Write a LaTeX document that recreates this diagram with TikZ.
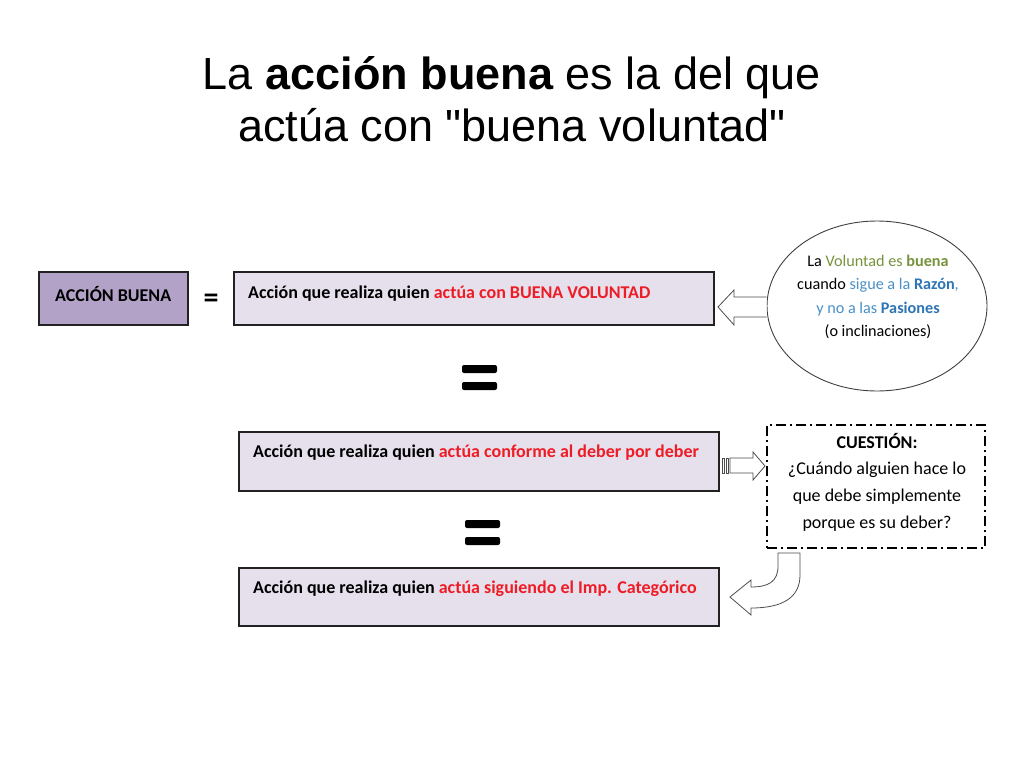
\documentclass[tikz,border=0pt]{standalone}
\usepackage{fontspec}
\usetikzlibrary{shapes.geometric,calc}
\setmainfont{Carlito}
\newfontfamily\titlefont{Liberation Sans}
\definecolor{boxfill}{HTML}{E6E0EC}
\definecolor{purplefill}{HTML}{B3A2C7}
\definecolor{redtxt}{HTML}{EE1C25}
\definecolor{greentxt}{HTML}{77933C}
\definecolor{bluetxt}{HTML}{4A90C8}
\definecolor{darkblue}{HTML}{2E75B6}
\definecolor{edge}{HTML}{222222}
\tikzset{
  panel/.style={draw=edge, line width=2pt, fill=boxfill, inner sep=0pt},
  boxtext/.style={anchor=west, inner sep=0pt, font=\fontsize{18}{21}\selectfont\bfseries},
  blockarrow/.style={draw=black!70, line width=0.8pt, fill=white},
  bigeq/.style={fill=black, rounded corners=2pt}
}
\begin{document}
\begin{tikzpicture}[x=1pt,y=-1pt]
\useasboundingbox (0,0) rectangle (1024,768);
% title
\node[font=\titlefont\fontsize{45}{52}\selectfont, align=center, inner sep=0pt] (title) at (512,99)
  {La \textbf{acción buena} es la del que\\actúa con "buena voluntad"};
% boxes
\node[panel, fill=purplefill, minimum width=149pt, minimum height=53pt] (ab) at (113.5,298.5) {};
\node[boxtext] (abt) at (55,294) {ACCIÓN BUENA};
\node[font=\fontsize{30}{30}\selectfont\bfseries, inner sep=0pt] (eq1) at (211,301) {=};
\node[panel, minimum width=480pt, minimum height=53pt] (b1) at (474,298.5) {};
\node[boxtext] (b1t) at (248,294) {Acción que realiza quien \textcolor{redtxt}{actúa con BUENA VOLUNTAD}};
\node[panel, minimum width=480pt, minimum height=59pt] (b2) at (479,461.5) {};
\node[boxtext] (b2t) at (253,453) {Acción que realiza quien \textcolor{redtxt}{actúa conforme al deber por deber}};
\node[panel, minimum width=480pt, minimum height=58pt] (b3) at (479,597) {};
\node[boxtext] (b3t) at (253,589) {Acción que realiza quien \textcolor{redtxt}{actúa siguiendo el Imp. Categórico}};
% big equals signs
\fill[bigeq] (462,365) rectangle (497,373);
\fill[bigeq] (462,382) rectangle (497,390);
\coordinate (eqa) at (479,377);
\fill[bigeq] (465,520) rectangle (500,528);
\fill[bigeq] (465,537) rectangle (500,545);
\coordinate (eqb) at (482,532);
% ellipse
\node[draw=black!75, line width=0.9pt, ellipse, minimum width=220pt, minimum height=170pt, inner sep=0pt, fill=white] (ell) at (877,306) {};
\draw[blockarrow] ($(ell.west)+(0,-9)$) -- (734,297) -- (734,290) -- (718,307) -- (734,325) -- (734,317) -- ($(ell.west)+(0,11)$);
\node[font=\fontsize{16.2}{23.5}\selectfont, align=center, inner sep=0pt] (ellt) at (878,297)
  {La \textcolor{greentxt}{Voluntad es \textbf{buena}}\\
   cuando \textcolor{bluetxt}{sigue a la \textbf{\textcolor{darkblue}{Razón}},}\\
   \textcolor{bluetxt}{y no a las \textbf{\textcolor{darkblue}{Pasiones}}}\\
   (o inclinaciones)};
% question box
\node[draw=black, line width=2pt, dash pattern=on 10pt off 4pt on 2pt off 4pt, minimum width=218pt, minimum height=123pt, inner sep=0pt, fill=white] (q) at (876,486.5) {};
\node[font=\fontsize{18}{26.7}\selectfont, align=center, inner sep=0pt] (qt) at (877,482)
  {\textbf{CUESTIÓN:}\\¿Cuándo alguien hace lo\\que debe simplemente\\porque es su deber?};
% striped arrow
\draw[blockarrow] (730,458) -- (753,458) -- (753,452) -- (765,466) -- (753,480) -- (753,473) -- (730,473) -- cycle;
\draw[black!70, line width=0.8pt] (722,458) rectangle (724,473);
\draw[black!70, line width=0.8pt] (726,458) rectangle (728,473);
% curved arrow
\draw[blockarrow] (778,553) -- (800,553) -- (800,575) .. controls (800,598) and (782,608) .. (751,608)
  -- (751,615) -- (730,597) -- (751,580) -- (751,587)
  .. controls (768,587) and (778,582) .. (778,566) -- cycle;
\end{tikzpicture}
\end{document}
